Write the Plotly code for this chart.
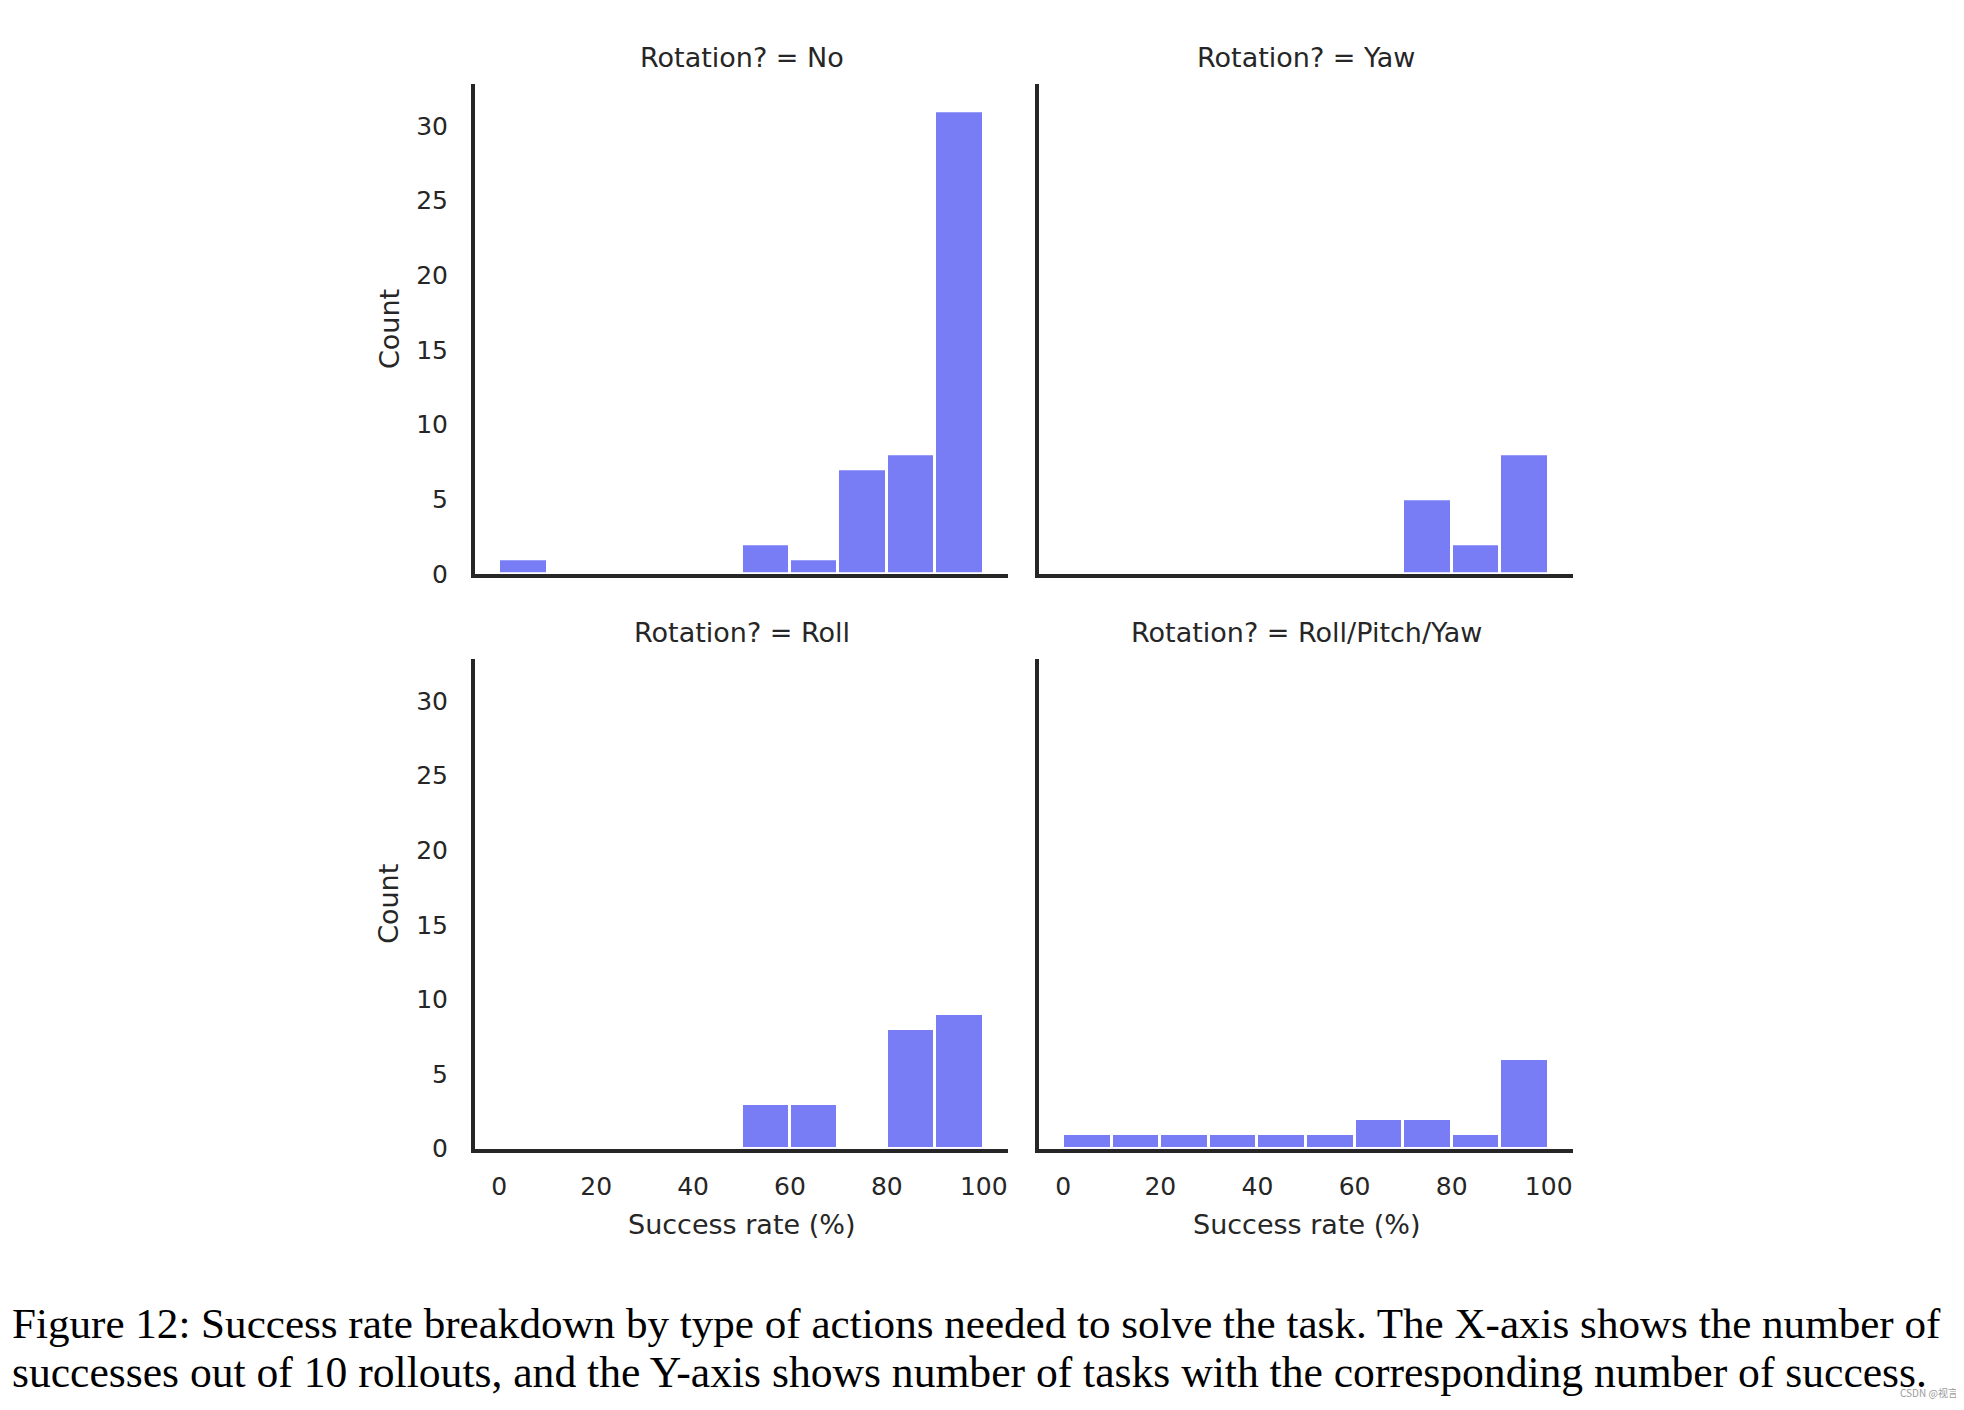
import plotly.graph_objects as go

# histogram bins (success rate %, left edges, width 10)
bin_starts = [0, 10, 20, 30, 40, 50, 60, 70, 80, 90]
bin_width = 10

panel_titles = [
    "Rotation? = No",
    "Rotation? = Yaw",
    "Rotation? = Roll",
    "Rotation? = Roll/Pitch/Yaw",
]
counts_no = [1, 0, 0, 0, 0, 2, 1, 7, 8, 31]
counts_yaw = [0, 0, 0, 0, 0, 0, 0, 5, 2, 8]
counts_roll = [0, 0, 0, 0, 0, 3, 3, 0, 8, 9]
counts_rpy = [1, 1, 1, 1, 1, 1, 2, 2, 1, 6]

x_ticks = [0, 20, 40, 60, 80, 100]
y_ticks = [0, 5, 10, 15, 20, 25, 30]

caption_lines = [
    "Figure 12: Success rate breakdown by type of actions needed to solve the task. The X-axis shows the number of",
    "successes out of 10 rollouts, and the Y-axis shows number of tasks with the corresponding number of success.",
]

W, H = 1964, 1410
PAGE_PAD = 8  # default body margin of the html page
BAR_COLOR = "#787df5"
INK = "#262626"
SANS = "DejaVu Sans"


def px_x(x):
    return (x - PAGE_PAD) / W


def px_y(y):
    return (H - (y - PAGE_PAD)) / H


# panel boxes in screen pixels: (left, right) / (top, bottom)
cols_px = [(475, 1008), (1039, 1573)]
rows_px = [(85, 580), (666, 1161)]

fig = go.Figure()

all_counts = [counts_no, counts_yaw, counts_roll, counts_rpy]
for i, counts in enumerate(all_counts):
    r, c = divmod(i, 2)
    xs = [b for b, n in zip(bin_starts, counts) if n > 0]
    ys = [n for n in counts if n > 0]
    fig.add_trace(
        go.Bar(
            x=xs,
            y=ys,
            width=bin_width,
            offset=0,
            marker=dict(color=BAR_COLOR, line=dict(color="white", width=3)),
            xaxis="x" if i == 0 else f"x{i + 1}",
            yaxis="y" if i == 0 else f"y{i + 1}",
            showlegend=False,
            hoverinfo="x+y",
        )
    )

    left, right = cols_px[c]
    top, bottom = rows_px[r]
    sfx = "" if i == 0 else str(i + 1)
    fig.layout[f"xaxis{sfx}"] = dict(
        domain=[px_x(left), px_x(right)],
        anchor=f"y{sfx}",
        range=[-5, 105],
        tickvals=x_ticks,
        showticklabels=(r == 1),
        ticks="",
        ticklabelstandoff=12,
        showgrid=False,
        zeroline=False,
        showline=True,
        linewidth=4,
        linecolor=INK,
        tickfont=dict(family=SANS, size=25, color=INK),
        fixedrange=True,
    )
    fig.layout[f"yaxis{sfx}"] = dict(
        domain=[px_y(bottom), px_y(top)],
        anchor=f"x{sfx}",
        range=[0, 32.8],
        tickvals=y_ticks,
        showticklabels=(c == 0),
        ticks="",
        ticklabelstandoff=18,
        showgrid=False,
        zeroline=False,
        showline=True,
        linewidth=4,
        linecolor=INK,
        tickfont=dict(family=SANS, size=25, color=INK),
        fixedrange=True,
    )

    # facet title
    fig.add_annotation(
        text=panel_titles[i],
        x=px_x((left + right) / 2),
        y=px_y(top - 27),
        xref="paper",
        yref="paper",
        showarrow=False,
        xanchor="center",
        yanchor="middle",
        font=dict(family=SANS, size=27, color=INK),
    )
    if c == 0:
        fig.add_annotation(
            text="Count",
            x=px_x(389),
            y=px_y((top + bottom) / 2),
            xref="paper",
            yref="paper",
            showarrow=False,
            textangle=-90,
            xanchor="center",
            yanchor="middle",
            font=dict(family=SANS, size=27, color=INK),
        )
    if r == 1:
        fig.add_annotation(
            text="Success rate (%)",
            x=px_x((left + right) / 2),
            y=px_y(1238),
            xref="paper",
            yref="paper",
            showarrow=False,
            xanchor="center",
            yanchor="middle",
            font=dict(family=SANS, size=27, color=INK),
        )

# caption below the figure
for line, ypx, size in zip(caption_lines, [1338, 1387], [43.1, 43.6]):
    fig.add_annotation(
        text=line,
        x=px_x(10),
        y=px_y(ypx),
        xref="paper",
        yref="paper",
        showarrow=False,
        xanchor="left",
        yanchor="middle",
        font=dict(family="Liberation Serif", size=size, color="black"),
    )

# small watermark in the bottom-right corner
fig.add_annotation(
    text="CSDN @视言",
    x=px_x(1960),
    y=px_y(1407),
    xref="paper",
    yref="paper",
    showarrow=False,
    xanchor="right",
    yanchor="middle",
    font=dict(family="Noto Sans CJK SC", size=10, color="#9a9a9a"),
)

fig.update_layout(
    width=W,
    height=H,
    margin=dict(l=0, r=0, t=0, b=0),
    paper_bgcolor="white",
    plot_bgcolor="white",
    bargap=0,
)

fig.write_html("out.html")
